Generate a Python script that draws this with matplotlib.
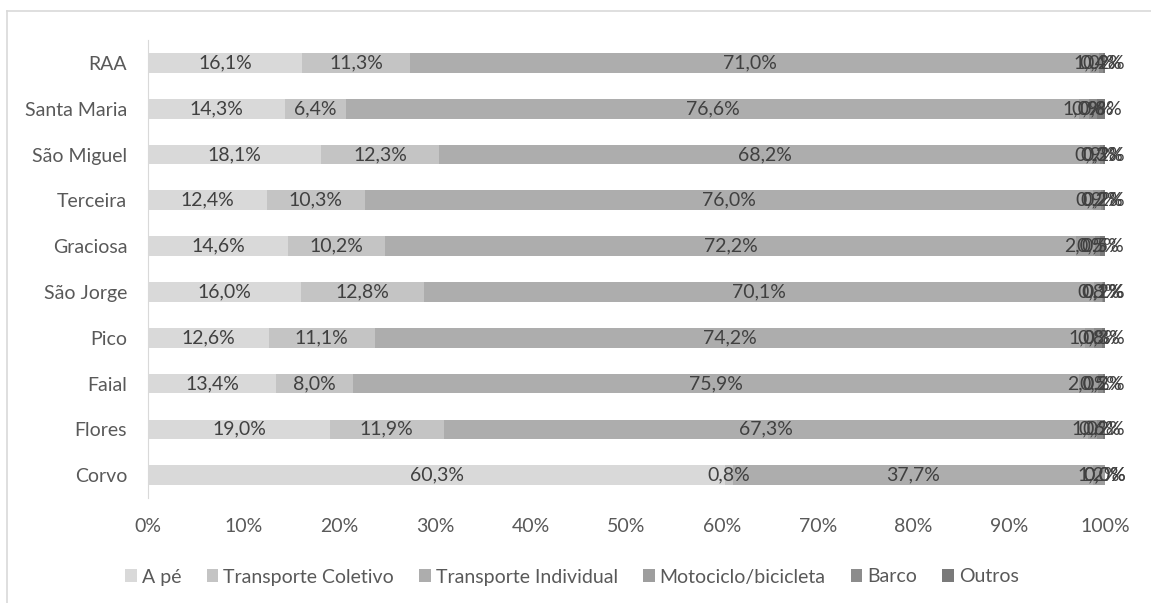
import numpy as np
import matplotlib
matplotlib.use("Agg")
import matplotlib.pyplot as plt
from matplotlib.lines import Line2D

plt.rcParams["font.family"] = ["Lato", "DejaVu Sans"]

ilhas = ["RAA", "Santa Maria", "São Miguel", "Terceira", "Graciosa",
         "São Jorge", "Pico", "Faial", "Flores", "Corvo"]
modos = ["A pé", "Transporte Coletivo", "Transporte Individual",
         "Motociclo/bicicleta", "Barco", "Outros"]

a_pe = [16.1, 14.3, 18.1, 12.4, 14.6, 16.0, 12.6, 13.4, 19.0, 60.3]
coletivo = [11.3, 6.4, 12.3, 10.3, 10.2, 12.8, 11.1, 8.0, 11.9, 0.8]
individual = [71.0, 76.6, 68.2, 76.0, 72.2, 70.1, 74.2, 75.9, 67.3, 37.7]
motociclo = [1.0, 1.0, 0.9, 0.9, 2.0, 0.8, 1.0, 2.0, 1.0, 1.2]
barco = [0.4, 0.9, 0.3, 0.2, 0.5, 0.1, 0.8, 0.5, 0.6, 0.0]
outros = [0.2, 0.8, 0.2, 0.2, 0.5, 0.2, 0.3, 0.2, 0.2, 0.0]

series = [a_pe, coletivo, individual, motociclo, barco, outros]
cores = ["#d9d9d9", "#c4c4c4", "#adadad", "#9e9e9e", "#8c8c8c", "#7a7a7a"]

fs = 14

fig = plt.figure(figsize=(11.51, 6.03), dpi=100)
ax = fig.add_axes([0.1286, 0.174, 0.8314, 0.7597])

y = np.arange(len(ilhas))
left = np.zeros(len(ilhas))
for nome, vals, cor in zip(modos, series, cores):
    vals = np.array(vals)
    ax.barh(y, vals, left=left, height=0.43, color=cor, label=nome)
    for yi, l, v in zip(y, left, vals):
        ax.text(l + v / 2, yi, f"{v:.1f}%".replace(".", ","), ha="center",
                va="center", fontsize=fs, color="#404040")
    left += vals

ax.set_xlim(0, 100)
ax.set_ylim(len(ilhas) - 0.5, -0.5)
ax.set_yticks(y)
ax.set_yticklabels(ilhas, fontsize=fs, color="#595959")
ax.set_xticks(np.arange(0, 101, 10))
ax.set_xticklabels([f"{t}%" for t in range(0, 101, 10)], fontsize=fs,
                   color="#595959")
ax.tick_params(axis="both", length=0)
ax.tick_params(axis="x", pad=14)
ax.tick_params(axis="y", pad=15)
for s in ["top", "right", "bottom"]:
    ax.spines[s].set_visible(False)
ax.spines["left"].set_color("#d9d9d9")

fig.legend(loc="center", bbox_to_anchor=(0.497, 1 - 577 / 603), ncol=6,
           frameon=False, fontsize=fs, handlelength=0.6, handleheight=0.6,
           handletextpad=0.25, columnspacing=1.3, labelcolor="#595959")

# moldura do gráfico
fig.add_artist(Line2D([7 / 1151, 1], [1 - 11 / 603, 1 - 11 / 603],
                      color="#d9d9d9", lw=1.2, transform=fig.transFigure))
fig.add_artist(Line2D([7 / 1151, 7 / 1151], [0, 1 - 11 / 603],
                      color="#d9d9d9", lw=1.2, transform=fig.transFigure))

fig.savefig("out.png", dpi=100)
